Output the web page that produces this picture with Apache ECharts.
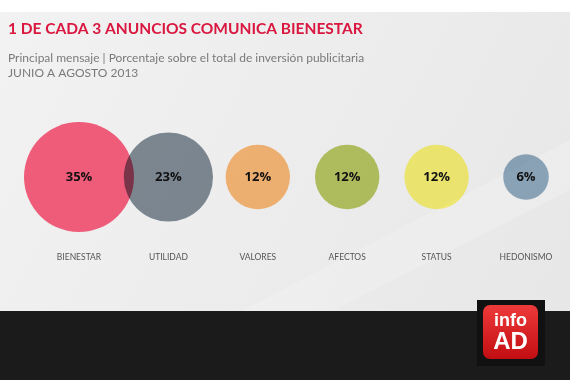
<!DOCTYPE html>
<html>
<head>
<meta charset="utf-8">
<script src="https://cdn.jsdelivr.net/npm/echarts@6/dist/echarts.min.js"></script>
<style>html,body{margin:0;padding:0;background:#fff}#c{width:570px;height:380px}</style>
</head>
<body>
<div id="c"></div>
<script>
const categories = ['BIENESTAR', 'UTILIDAD', 'VALORES', 'AFECTOS', 'STATUS', 'HEDONISMO'];
const values = [35, 23, 12, 12, 12, 6];
const colors = ['#fe6282', '#838f99', '#ffbc78', '#bccb65', '#fff878', '#93aec4'];
const titleText = '1 DE CADA 3 ANUNCIOS COMUNICA BIENESTAR';
const subtitleText = 'Principal mensaje | Porcentaje sobre el total de inversión publicitaria\nJUNIO A AGOSTO 2013';

const chart = echarts.init(document.getElementById('c'), null, {renderer: 'canvas'});
const maxV = Math.max.apply(null, values);
chart.setOption({
  animation: false,
  title: {
    text: titleText,
    subtext: subtitleText,
    left: 3, top: 16,
    itemGap: 14,
    textStyle: {fontFamily: 'Lato', fontWeight: 'bold', fontSize: 15.5, color: '#d9173f'},
    subtextStyle: {fontFamily: 'Lato', fontSize: 12, color: '#7a7a7a', lineHeight: 15}
  },
  graphic: [
    {type: 'rect', z: -10, shape: {x: 0, y: 12, width: 570, height: 300},
      style: {fill: new echarts.graphic.LinearGradient(0, 0, 1, 1, [
        {offset: 0, color: '#f2f2f2'}, {offset: 0.55, color: '#ececec'}, {offset: 1, color: '#e7e7e7'}])}},
    {type: 'polygon', z: -9, shape: {points: [[240, 312], [570, 140], [570, 190], [330, 312]]},
      style: {fill: 'rgba(255,255,255,0.18)'}},
    {type: 'rect', z: -8, shape: {x: 0, y: 311, width: 570, height: 69}, style: {fill: '#1b1b1b'}},
    {type: 'rect', z: 10, shape: {x: 477, y: 300, width: 68, height: 66}, style: {fill: '#111111'}},
    {type: 'rect', z: 11, shape: {x: 483, y: 305, width: 55, height: 54, r: 7},
      style: {fill: new echarts.graphic.LinearGradient(0, 0, 0, 1, [
        {offset: 0, color: '#ee3a3a'}, {offset: 1, color: '#c20d12'}])}},
    {type: 'text', z: 12, style: {text: 'info', x: 510.5, y: 321, fill: '#fff', font: 'bold 18px Arial', align: 'center', verticalAlign: 'middle'}},
    {type: 'text', z: 12, style: {text: 'AD', x: 510.5, y: 342, fill: '#fff', font: 'bold 24px Arial', align: 'center', verticalAlign: 'middle'}}
  ],
  grid: {left: 79, right: 44, top: 127, height: 100},
  xAxis: {
    type: 'category', data: categories, boundaryGap: false,
    axisLine: {show: false}, axisTick: {show: false}, splitLine: {show: false},
    axisLabel: {margin: 26, fontFamily: 'Lato', fontSize: 8.5, color: '#555', interval: 0}
  },
  yAxis: {type: 'value', min: -1, max: 1, show: false},
  series: [{
    type: 'scatter',
    blendMode: 'multiply',
    data: values.map((v, i) => ({value: [i, 0, v], itemStyle: {color: colors[i], opacity: 1}})),
    symbolSize: d => 110 * Math.sqrt(d[2] / maxV),
    label: {show: true, position: 'inside', formatter: p => p.value[2] + '%',
      fontFamily: 'Open Sans', fontWeight: 'bold', fontSize: 13, color: '#111'},
    emphasis: {disabled: true}
  }]
});
</script>
</body>
</html>
